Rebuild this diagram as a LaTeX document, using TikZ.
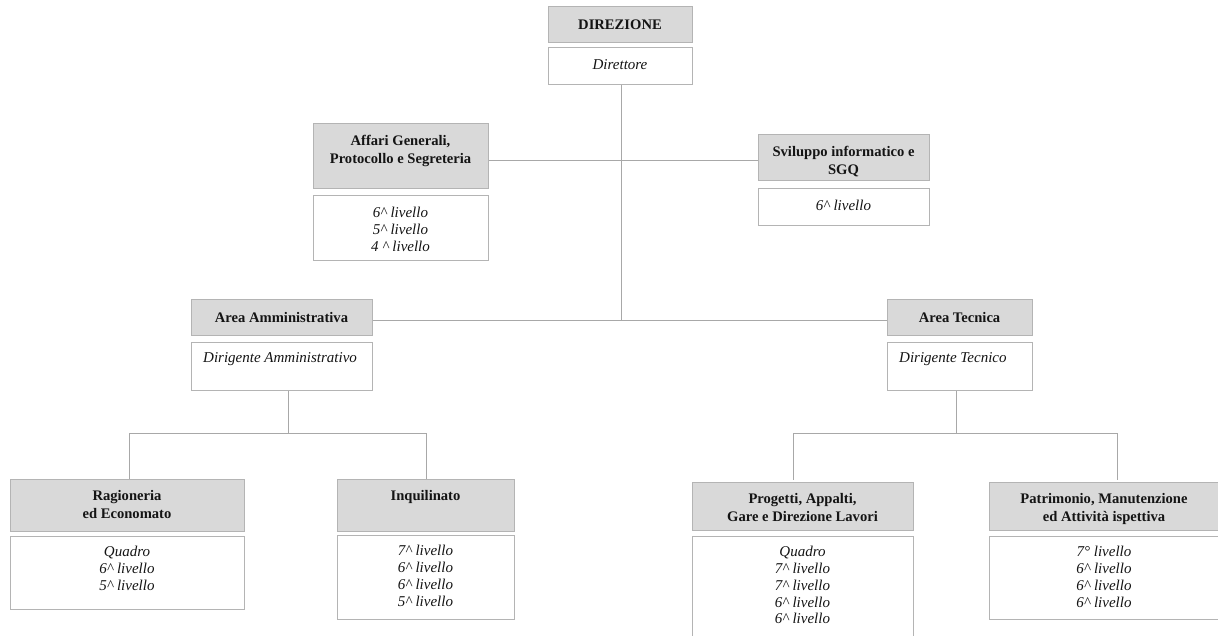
\documentclass[tikz,border=0pt]{standalone}
\usepackage{fontspec}
\setmainfont{Liberation Serif}
\definecolor{boxline}{HTML}{B4B4B4}
\definecolor{conn}{HTML}{A8A8A8}
\definecolor{gfill}{HTML}{D9D9D9}
\definecolor{txt}{HTML}{141414}
\tikzset{
  gbox/.style={draw=boxline, fill=gfill, line width=1pt, inner sep=0pt, outer sep=0pt, anchor=north west},
  wbox/.style={draw=boxline, fill=white, line width=1pt, inner sep=0pt, outer sep=0pt, anchor=north west},
  htext/.style={anchor=north, align=center, font=\fontsize{14.6}{17.8}\selectfont\bfseries, text=txt, inner sep=0pt},
  itext/.style={anchor=north, align=center, font=\fontsize{15}{16.8}\selectfont\itshape, text=txt, inner sep=0pt},
  conn/.style={draw=conn, line width=1pt}
}
\newcommand{\lv}[1]{#1\textasciicircum{} livello}
\begin{document}
\begin{tikzpicture}[x={(1pt,0)}, y={(0,-1pt)}]
\useasboundingbox (0,0) rectangle (1218,636);
% junctions
\coordinate (j1) at (621,161);
\coordinate (j2) at (621,320.5);
\coordinate (jA) at (288,433);
\coordinate (jAl) at (129,433);
\coordinate (jAr) at (426,433);
\coordinate (jT) at (956,433);
\coordinate (jTl) at (793,433);
\coordinate (jTr) at (1117,433);

% connectors (drawn first)
\draw[conn] (621,85) -- (j2);
\draw[conn] (488,161) -- (758,161);
\draw[conn] (372,320.5) -- (887,320.5);
\draw[conn] (288,390) -- (jA);
\draw[conn] (jAl) -- (jAr);
\draw[conn] (jAl) -- (129,479);
\draw[conn] (jAr) -- (426,479);
\draw[conn] (956,390) -- (jT);
\draw[conn] (jTl) -- (jTr);
\draw[conn] (jTl) -- (793,480);
\draw[conn] (jTr) -- (1117,480);

% DIREZIONE
\node[gbox, minimum width=144pt, minimum height=36pt] (dir) at (548,7) {};
\node[htext] (dirt) at ([yshift=-13pt]dir.north) {DIREZIONE};
\node[wbox, minimum width=144pt, minimum height=37pt] (dirw) at (548,48) {};
\node[itext] (dirwt) at ([yshift=-11pt]dirw.north) {Direttore};

% Affari Generali
\node[gbox, minimum width=175pt, minimum height=65pt] (ag) at (313,124) {};
\node[htext] (agt) at ([yshift=-11pt]ag.north) {Affari Generali,\\Protocollo e Segreteria};
\node[wbox, minimum width=175pt, minimum height=65pt] (agw) at (313,196) {};
\node[itext] (agwt) at ([yshift=-11pt]agw.north) {\lv{6}\\\lv{5}\\4 \textasciicircum{} livello};

% Sviluppo
\node[gbox, minimum width=171pt, minimum height=46pt] (sv) at (758,135) {};
\node[htext] (svt) at ([yshift=-11pt]sv.north) {Sviluppo informatico e\\SGQ};
\node[wbox, minimum width=171pt, minimum height=37pt] (svw) at (758,189) {};
\node[itext] (svwt) at ([yshift=-11pt]svw.north) {\lv{6}};

% Area Amministrativa
\node[gbox, minimum width=181pt, minimum height=35pt] (aa) at (191,300) {};
\node[htext] (aat) at ([yshift=-12pt]aa.north) {Area Amministrativa};
\node[wbox, minimum width=181pt, minimum height=48pt] (aaw) at (191,342) {};
\node[itext, anchor=north west] (aawt) at ([xshift=12pt,yshift=-10pt]aaw.north west) {Dirigente Amministrativo};

% Area Tecnica
\node[gbox, minimum width=145pt, minimum height=35pt] (at) at (887,300) {};
\node[htext] (att) at ([yshift=-12pt]at.north) {Area Tecnica};
\node[wbox, minimum width=145pt, minimum height=48pt] (atw) at (887,342) {};
\node[itext, anchor=north west] (atwt) at ([xshift=12pt,yshift=-10pt]atw.north west) {Dirigente Tecnico};

% Ragioneria
\node[gbox, minimum width=234pt, minimum height=52pt] (rag) at (10,479) {};
\node[htext] (ragt) at ([yshift=-11pt]rag.north) {Ragioneria\\ed Economato};
\node[wbox, minimum width=234pt, minimum height=73pt] (ragw) at (10,536) {};
\node[itext] (ragwt) at ([yshift=-10pt]ragw.north) {Quadro\\\lv{6}\\\lv{5}};

% Inquilinato
\node[gbox, minimum width=177pt, minimum height=52pt] (inq) at (337,479) {};
\node[htext] (inqt) at ([yshift=-11pt]inq.north) {Inquilinato};
\node[wbox, minimum width=177pt, minimum height=84pt] (inqw) at (337,535) {};
\node[itext] (inqwt) at ([yshift=-10pt]inqw.north) {\lv{7}\\\lv{6}\\\lv{6}\\\lv{5}};

% Progetti
\node[gbox, minimum width=221pt, minimum height=48pt] (pr) at (692,482) {};
\node[htext] (prt) at ([yshift=-11pt]pr.north) {Progetti, Appalti,\\Gare e Direzione Lavori};
\node[wbox, minimum width=221pt, minimum height=110pt] (prw) at (692,536) {};
\node[itext] (prwt) at ([yshift=-10pt]prw.north) {Quadro\\\lv{7}\\\lv{7}\\\lv{6}\\\lv{6}};

% Patrimonio
\node[gbox, minimum width=240pt, minimum height=48pt] (pa) at (989,482) {};
\node[htext] (pat) at ([xshift=-5pt,yshift=-11pt]pa.north) {Patrimonio, Manutenzione\\ed Attività ispettiva};
\node[wbox, minimum width=240pt, minimum height=83pt] (paw) at (989,536) {};
\node[itext] (pawt) at ([xshift=-5pt,yshift=-10pt]paw.north) {7° livello\\\lv{6}\\\lv{6}\\\lv{6}};
\end{tikzpicture}
\end{document}
